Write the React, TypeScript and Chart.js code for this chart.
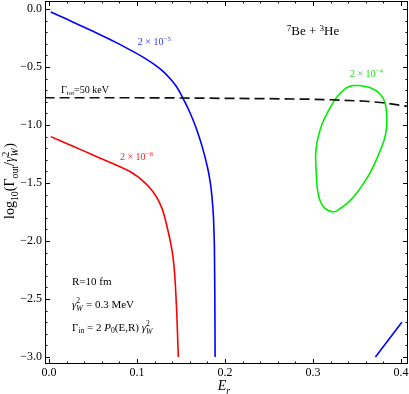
import React, { useEffect, useRef } from 'react';
import { Chart, registerables } from 'chart.js';
Chart.register(...registerables);

const FONT = '"Liberation Serif", "Times New Roman", serif';

// ---- data (E_r in MeV, log10 values) ----
const totE = [-0.005, 0.05, 0.1, 0.15, 0.2, 0.25, 0.3, 0.33, 0.36, 0.38, 0.4, 0.41];
const totLog = [-0.765, -0.765, -0.765, -0.767, -0.77, -0.773, -0.778, -0.785, -0.795, -0.808, -0.83, -0.842];

const blueE = [0.002, 0.02, 0.04, 0.06, 0.08, 0.1, 0.11, 0.12, 0.13, 0.14, 0.145, 0.15, 0.155, 0.16, 0.165, 0.17, 0.175, 0.18, 0.183, 0.185, 0.187, 0.188, 0.1885, 0.1888];
const blueLog = [-0.025, -0.087, -0.157, -0.228, -0.303, -0.385, -0.43, -0.48, -0.54, -0.62, -0.67, -0.735, -0.81, -0.89, -0.98, -1.085, -1.21, -1.36, -1.48, -1.6, -1.8, -2.05, -2.5, -3.0];

const blueTailE = [0.371, 0.401];
const blueTailLog = [-3.0, -2.7];

const redE = [0.002, 0.02, 0.04, 0.055, 0.075, 0.092, 0.1, 0.105, 0.11, 0.115, 0.12, 0.124, 0.128, 0.131, 0.134, 0.137, 0.14, 0.142, 0.1435, 0.145, 0.146, 0.147];
const redLog = [-1.1, -1.16, -1.225, -1.275, -1.34, -1.4, -1.44, -1.47, -1.505, -1.545, -1.595, -1.645, -1.71, -1.78, -1.87, -1.97, -2.09, -2.21, -2.36, -2.58, -2.78, -3.0];

const greenE = [0.353, 0.366, 0.376, 0.382, 0.384, 0.382, 0.378, 0.372, 0.365, 0.356, 0.346, 0.338, 0.331, 0.323, 0.314, 0.308, 0.305, 0.304, 0.303, 0.304, 0.306, 0.31, 0.316, 0.321, 0.327, 0.338, 0.346, 0.353];
const greenLog = [-0.66, -0.68, -0.73, -0.81, -0.98, -1.1, -1.19, -1.3, -1.41, -1.52, -1.62, -1.68, -1.72, -1.75, -1.72, -1.65, -1.55, -1.45, -1.27, -1.18, -1.1, -1.0, -0.9, -0.83, -0.76, -0.68, -0.66, -0.66];

const xMin = -0.0045, xMax = 0.408;
const yMin = -3.06, yMax = 0.069;
const xStep = 0.1, xMinor = 0.02;
const yStep = 0.5, yMinor = 0.1;

type Seg = [string, string];

// label texts with anchor (data coords, baseline)
const labels: { segs: Seg[]; x: number; y: number; size: number; color: string; align: string }[] = [
  { segs: [['2 × 10', 'n'], ['−5', 'sup']], x: 0.101, y: -0.31, size: 10, color: '#3333ff', align: 'left' },
  { segs: [['2 × 10', 'n'], ['−6', 'sup']], x: 0.0807, y: -1.302, size: 10, color: '#ff2222', align: 'left' },
  { segs: [['2 × 10', 'n'], ['−4', 'sup']], x: 0.342, y: -0.586, size: 10, color: '#22dd22', align: 'left' },
  { segs: [['Γ', 'n'], ['tot', 'sub'], ['=50 keV', 'n']], x: 0.0136, y: -0.72, size: 10, color: '#000', align: 'left' },
  { segs: [['7', 'sup'], ['Be + ', 'n'], ['3', 'sup'], ['He', 'n']], x: 0.3, y: -0.228, size: 13, color: '#000', align: 'center' },
  { segs: [['R=10 fm', 'n']], x: 0.0261, y: -2.376, size: 11, color: '#000', align: 'left' },
  { segs: [['γ', 'i'], ['2|W', 'stack'], [' = 0.3 MeV', 'n']], x: 0.0261, y: -2.574, size: 11, color: '#000', align: 'left' },
  { segs: [['Γ', 'n'], ['in', 'sub'], [' = 2 ', 'n'], ['P', 'i'], ['0', 'sub'], ['(E,R) ', 'n'], ['γ', 'i'], ['2|W', 'stack']], x: 0.0261, y: -2.772, size: 11, color: '#000', align: 'left' },
];

const yTitle: Seg[] = [['log', 'n'], ['10', 'sub'], ['(Γ', 'n'], ['out', 'sub'], ['/', 'n'], ['γ', 'i'], ['2|W', 'stack'], [')', 'n']];
const xTitle: Seg[] = [['E', 'i'], ['r', 'isub']];

const pts = (xs: number[], ys: number[]) => xs.map((x, i) => ({ x, y: ys[i] }));

function fnt(size: number, italic = false) {
  return `${italic ? 'italic ' : ''}${size}px ${FONT}`;
}
function segW(ctx: CanvasRenderingContext2D, seg: Seg, size: number) {
  const [t, k] = seg;
  if (k === 'stack') {
    const [a, b] = t.split('|');
    ctx.font = fnt(size * 0.7);
    const w1 = ctx.measureText(a).width;
    ctx.font = fnt(size * 0.7, true);
    const w2 = ctx.measureText(b).width;
    return Math.max(w1, w2) + size * 0.05;
  }
  const small = k === 'sub' || k === 'sup' || k === 'isub';
  ctx.font = fnt(small ? size * 0.7 : size, k === 'i' || k === 'isub');
  return ctx.measureText(t).width;
}
function drawRich(ctx: CanvasRenderingContext2D, segs: Seg[], x: number, y: number, size: number, color: string, align: string) {
  ctx.save();
  ctx.fillStyle = color;
  ctx.textBaseline = 'alphabetic';
  ctx.textAlign = 'left';
  const total = segs.reduce((s, g) => s + segW(ctx, g, size), 0);
  let cx = align === 'center' ? x - total / 2 : x;
  for (const g of segs) {
    const [t, k] = g;
    if (k === 'stack') {
      const w = segW(ctx, g, size);
      const [a, b] = t.split('|');
      ctx.font = fnt(size * 0.7);
      ctx.fillText(a, cx, y - size * 0.38);
      ctx.font = fnt(size * 0.7, true);
      ctx.fillText(b, cx, y + size * 0.28);
      cx += w;
    } else {
      const w = segW(ctx, g, size);
      const dy = k === 'sub' || k === 'isub' ? size * 0.25 : k === 'sup' ? -size * 0.38 : 0;
      ctx.fillText(t, cx, y + dy);
      cx += w;
    }
  }
  ctx.restore();
}

const framePlugin = {
  id: 'frame',
  afterDraw(chart: any) {
    const { ctx, chartArea: a, scales } = chart;
    const xs = scales.x, ys = scales.y;
    ctx.save();
    ctx.strokeStyle = '#000';
    ctx.lineWidth = 1;
    ctx.strokeRect(a.left + 0.5, a.top + 0.5, a.right - a.left - 1, a.bottom - a.top - 1);
    ctx.beginPath();
    const nx = Math.round(0.4 / xMinor);
    for (let i = 0; i <= nx; i++) {
      const v = i * xMinor;
      const L = i % Math.round(xStep / xMinor) === 0 ? 5 : 2.5;
      const p = Math.round(xs.getPixelForValue(v)) + 0.5;
      ctx.moveTo(p, a.bottom);
      ctx.lineTo(p, a.bottom - L);
      ctx.moveTo(p, a.top);
      ctx.lineTo(p, a.top + L);
    }
    const ny = Math.round(3 / yMinor);
    for (let i = 0; i <= ny; i++) {
      const v = -i * yMinor;
      const L = i % Math.round(yStep / yMinor) === 0 ? 5 : 2.5;
      const p = Math.round(ys.getPixelForValue(v)) + 0.5;
      ctx.moveTo(a.left, p);
      ctx.lineTo(a.left + L, p);
      ctx.moveTo(a.right, p);
      ctx.lineTo(a.right - L, p);
    }
    ctx.stroke();
    ctx.restore();

    // axis titles
    ctx.save();
    ctx.translate(14, 181);
    ctx.rotate(-Math.PI / 2);
    drawRich(ctx, yTitle, 0, 0, 14, '#000', 'center');
    ctx.restore();
    drawRich(ctx, xTitle, 224, 390, 14, '#000', 'center');

    for (const l of labels) {
      drawRich(ctx, l.segs, xs.getPixelForValue(l.x), ys.getPixelForValue(l.y), l.size, l.color, l.align);
    }
  },
};

function fmt(v: number) {
  const s = Math.abs(v).toFixed(1);
  return v < -1e-9 ? '−' + s : s;
}

function noPad(s: any) {
  s.paddingTop = 0;
  s.paddingBottom = 0;
  s.paddingLeft = 0;
  s.paddingRight = 0;
}

export default function App() {
  const ref = useRef<HTMLCanvasElement>(null);
  useEffect(() => {
    // borderDash [1000, 0] renders solid but keeps exact (non-fast) path
    const line = { pointRadius: 0, borderWidth: 1.6, fill: false, tension: 0.15, borderDash: [1000, 0] };
    const chart = new Chart(ref.current!, {
      type: 'line',
      data: {
        datasets: [
          { ...line, data: pts(totE, totLog), borderColor: '#111', borderDash: [10, 5], borderWidth: 1.7, tension: 0 },
          { ...line, data: pts(blueE, blueLog), borderColor: '#0000ff' },
          { ...line, data: pts(blueTailE, blueTailLog), borderColor: '#0000ff', tension: 0 },
          { ...line, data: pts(redE, redLog), borderColor: '#ff0000' },
          { ...line, data: pts(greenE, greenLog), borderColor: '#00ee00', tension: 0.3 },
        ] as any,
      },
      options: {
        animation: false,
        responsive: false,
        devicePixelRatio: 1,
        layout: { padding: { left: 0, right: 1, top: 1, bottom: 0 } },
        plugins: { legend: { display: false }, tooltip: { enabled: false } },
        scales: {
          x: {
            type: 'linear',
            min: xMin,
            max: xMax,
            afterFit: (s: any) => { s.height = 30; noPad(s); },
            grid: { display: false, drawTicks: false },
            border: { display: false },
            ticks: {
              stepSize: xStep,
              includeBounds: false,
              padding: 2,
              color: '#000',
              maxRotation: 0,
              autoSkip: false,
              font: { family: FONT, size: 12 },
              callback: (v: any) => fmt(Number(v)),
            },
          },
          y: {
            type: 'linear',
            min: yMin,
            max: yMax,
            afterFit: (s: any) => { s.width = 45; noPad(s); },
            grid: { display: false, drawTicks: false },
            border: { display: false },
            ticks: {
              stepSize: yStep,
              includeBounds: false,
              padding: 3,
              color: '#000',
              autoSkip: false,
              font: { family: FONT, size: 12 },
              callback: (v: any) => fmt(Number(v)),
            },
          },
        },
      } as any,
      plugins: [framePlugin],
    });
    return () => chart.destroy();
  }, []);
  return (
    <div style={{ position: 'fixed', left: 0, top: 0, width: 409, height: 394, background: '#fff' }}>
      <canvas ref={ref} width={409} height={394} style={{ display: 'block', width: 409, height: 394 }} />
    </div>
  );
}
